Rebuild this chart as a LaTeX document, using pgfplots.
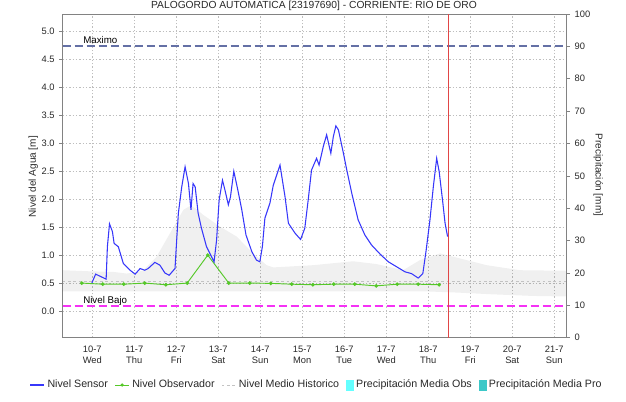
\documentclass[border=0pt]{standalone}
\usepackage{fontspec}
\setmainfont{Liberation Sans}
\usepackage{pgfplots}
\pgfplotsset{compat=1.18}
\definecolor{sensor}{RGB}{55,55,250}
\definecolor{obs}{RGB}{85,200,40}
\definecolor{maxc}{RGB}{100,112,165}
\definecolor{bajo}{RGB}{245,50,245}
\definecolor{redl}{RGB}{225,70,70}
\definecolor{axgray}{RGB}{130,130,130}
\definecolor{gridc}{RGB}{190,190,190}
\definecolor{histc}{RGB}{195,195,195}
\definecolor{cyanobs}{RGB}{100,255,255}
\definecolor{tealpro}{RGB}{60,200,200}
\definecolor{txt}{RGB}{40,40,40}
\begin{document}
\begin{tikzpicture}
\begin{axis}[
 at={(0pt,0pt)}, anchor=south west,
 scale only axis, width=378pt, height=242.8pt,
 xmin=9.295, xmax=21.295, ymin=-0.477, ymax=5.31,
 /pgf/number format/assume math mode=true,
 axis line style={axgray, line width=0.6pt},
 tick style={axgray, line width=0.5pt},
 tick align=outside, major tick length=2.5pt,
 xtick={10,11,12,13,14,15,16,17,18,19,20,21},
 xticklabels={{10-7\\Wed},{11-7\\Thu},{12-7\\Fri},{13-7\\Sat},{14-7\\Sun},{15-7\\Mon},{16-7\\Tue},{17-7\\Wed},{18-7\\Thu},{19-7\\Fri},{20-7\\Sat},{21-7\\Sun}},
 xticklabel style={align=center, font=\fontsize{7}{8.2}\selectfont, text=txt},
 xtick style={draw=none},
 ytick={0,0.5,1,1.5,2,2.5,3,3.5,4,4.5,5},
 yticklabel style={font=\fontsize{7}{8}\selectfont, text=txt, /pgf/number format/.cd, fixed, fixed zerofill, precision=1},
 ytick pos=left,
 grid=major,
 major grid style={gridc, dash pattern=on 1pt off 1.5pt, line width=0.5pt},
 legend columns=5,
 legend cell align=left,
 legend style={at={(0.5046,-0.146)}, anchor=center, draw=none, fill=none,
   font=\fontsize{8}{9.6}\selectfont, text=txt,
   /tikz/every even column/.append style={column sep=3pt}},
 legend image code/.code={\draw[#1] (0cm,0cm) -- (0.37cm,0cm);},
]
% legend images
\addlegendimage{sensor, line width=0.8pt}
\addlegendentry{Nivel Sensor}
\addlegendimage{obs, line width=0.7pt, legend image code/.code={\draw[obs,line width=0.7pt] (0cm,0cm) -- (0.37cm,0cm); \fill[obs] (0.185cm,0cm) circle (0.9pt);}}
\addlegendentry{Nivel Observador}
\addlegendimage{histc, line width=0.7pt, dash pattern=on 2pt off 2pt}
\addlegendentry{Nivel Medio Historico}
\addlegendimage{legend image code/.code={\fill[cyanobs] (0cm,-0.13cm) rectangle (0.19cm,0.13cm);}}
\addlegendentry{Precipitación Media Obs}
\addlegendimage{legend image code/.code={\fill[tealpro] (0cm,-0.13cm) rectangle (0.19cm,0.13cm);}}
\addlegendentry{Precipitación Media Pro}

% historic band
\addplot[forget plot, draw=none, fill=black, fill opacity=0.06] coordinates {
(9.295,0.73) (9.95,0.71) (10.5,0.70) (10.82,0.67) (11.2,0.72) (11.53,0.97) (11.85,1.39) (12.17,1.81) (12.33,1.88) (12.45,1.84) (12.64,1.72) (13.04,1.51) (13.44,1.33) (13.83,1.03) (14.15,0.82) (14.31,0.78) (15.26,0.82) (16.21,0.89) (16.77,0.84) (17.40,0.73) (17.80,0.91) (18.28,1.03) (18.60,0.97) (19.39,0.82) (20.18,0.73) (21.295,0.72)
(21.295,0.26) (20.5,0.27) (19.5,0.30) (18.7,0.33) (18.0,0.35) (9.295,0.35)};
% historic mean
\addplot[forget plot, histc, line width=0.7pt, dash pattern=on 2pt off 2pt] coordinates {(9.295,0.52) (21.295,0.52)};
% maximo / bajo
\addplot[forget plot, maxc, line width=1.4pt, dash pattern=on 6pt off 3pt] coordinates {(9.295,4.74) (21.295,4.74)};
\addplot[forget plot, bajo, line width=1.4pt, dash pattern=on 6pt off 3pt] coordinates {(9.295,0.097) (21.295,0.097)};
% now line
\addplot[forget plot, redl, line width=0.7pt] coordinates {(18.49,-0.477) (18.49,5.31)};
% observador
\addplot[forget plot, obs, line width=0.7pt, mark=*, mark size=1pt] coordinates {
(9.75,0.50) (10.25,0.48) (10.75,0.48) (11.25,0.50) (11.75,0.47) (12.26,0.50) (12.75,1.00) (13.25,0.50) (13.75,0.50) (14.25,0.495) (14.75,0.48) (15.25,0.47) (15.75,0.48) (16.25,0.48) (16.76,0.45) (17.26,0.48) (17.76,0.48) (18.26,0.47)};
% sensor
\addplot[forget plot, sensor, line width=0.8pt] coordinates {
(9.99,0.50) (10.08,0.66) (10.22,0.61) (10.33,0.57) (10.36,1.15) (10.41,1.56) (10.48,1.42) (10.52,1.21) (10.62,1.15) (10.74,0.85) (10.90,0.73) (11.02,0.66) (11.14,0.76) (11.25,0.73) (11.33,0.76) (11.49,0.87) (11.61,0.82) (11.73,0.68) (11.83,0.64) (11.97,0.76) (12.01,1.27) (12.05,1.75) (12.13,2.22) (12.21,2.58) (12.29,2.28) (12.35,1.81) (12.40,2.28) (12.45,2.22) (12.52,1.75) (12.60,1.48) (12.72,1.15) (12.84,0.97) (12.90,0.88) (12.96,1.27) (13.02,1.98) (13.10,2.34) (13.16,2.16) (13.24,1.90) (13.29,2.04) (13.37,2.50) (13.45,2.22) (13.56,1.81) (13.66,1.36) (13.80,1.06) (13.91,0.91) (13.99,0.88) (14.05,1.15) (14.11,1.66) (14.23,1.93) (14.31,2.25) (14.47,2.61) (14.59,2.04) (14.67,1.57) (14.83,1.39) (14.96,1.28) (15.06,1.48) (15.14,1.98) (15.22,2.52) (15.34,2.73) (15.40,2.61) (15.50,2.94) (15.58,3.15) (15.68,2.82) (15.74,3.12) (15.80,3.31) (15.86,3.24) (15.98,2.82) (16.06,2.52) (16.18,2.10) (16.33,1.63) (16.49,1.36) (16.65,1.18) (16.85,1.02) (17.05,0.88) (17.25,0.79) (17.45,0.70) (17.60,0.67) (17.76,0.59) (17.87,0.67) (17.95,1.09) (18.04,1.63) (18.12,2.22) (18.20,2.73) (18.26,2.49) (18.34,1.98) (18.40,1.57) (18.46,1.33)};
\node[anchor=base west, inner sep=0pt, font=\fontsize{7.3}{8.8}\selectfont, text=black] at (axis cs:9.78,4.78) {Maximo};
\node[anchor=base west, inner sep=0pt, font=\fontsize{7.3}{8.8}\selectfont, text=black] at (axis cs:9.78,0.14) {Nivel Bajo};
\end{axis}
\begin{axis}[
 at={(0pt,0pt)}, anchor=south west,
 scale only axis, width=378pt, height=242.8pt,
 xmin=9.295, xmax=21.295, ymin=0, ymax=100,
 /pgf/number format/assume math mode=true,
 axis x line=none, axis y line*=right,
 axis line style={axgray, line width=0.6pt},
 tick style={axgray, line width=0.5pt},
 tick align=outside, major tick length=2.5pt,
 ytick={0,10,20,30,40,50,60,70,80,90,100},
 yticklabel style={font=\fontsize{7}{8}\selectfont, text=txt},
]
\end{axis}
\node[anchor=base, font=\fontsize{7.7}{9}\selectfont, text=txt] at (188.5pt,247.2pt) {PALOGORDO AUTOMATICA [23197690] - CORRIENTE: RIO DE ORO};
\node[rotate=90, font=\fontsize{7.5}{9}\selectfont, text=txt] at (-22pt,120.75pt) {Nivel del Agua [m]};
\node[rotate=-90, font=\fontsize{7.5}{9}\selectfont, text=txt] at (401.7pt,122pt) {Precipitación [mm]};
\pgfresetboundingbox
\useasboundingbox (-47pt,-47.5pt) rectangle (422.5pt,253.3pt);
\end{tikzpicture}
\end{document}
